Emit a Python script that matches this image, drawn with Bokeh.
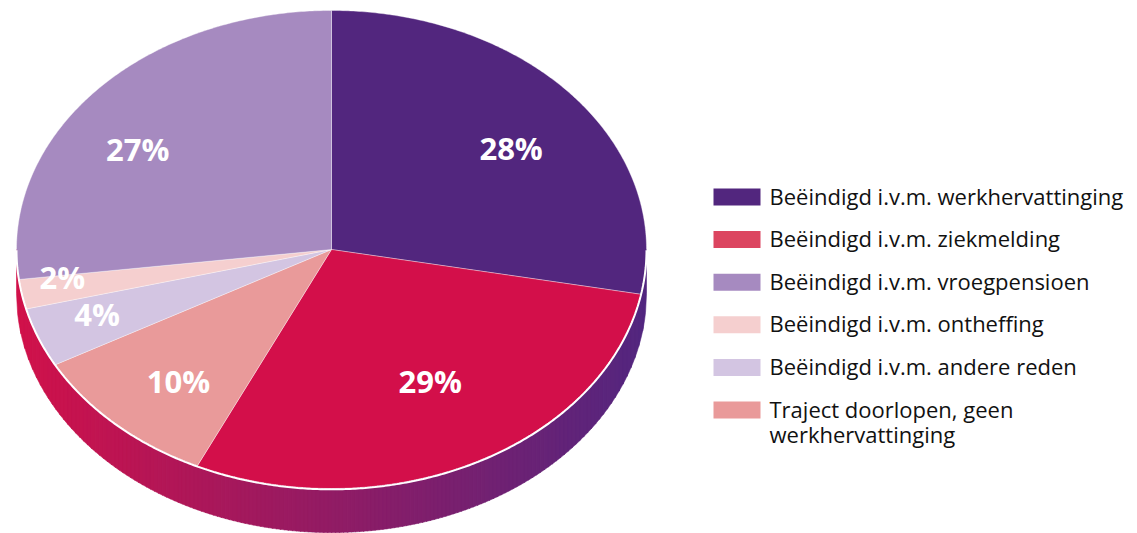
import numpy as np
from bokeh.plotting import figure
from bokeh.models import Range1d
from bokeh.core.properties import value
from bokeh.embed import file_html
from bokeh.resources import INLINE

# ---------------- data ----------------
categories = [
    "Beëindigd i.v.m. werkhervattinging",
    "Beëindigd i.v.m. ziekmelding",
    "Beëindigd i.v.m. vroegpensioen",
    "Beëindigd i.v.m. ontheffing",
    "Beëindigd i.v.m. andere reden",
    "Traject doorlopen, geen\nwerkhervattinging",
]
values = [28, 29, 27, 2, 4, 10]
pie_order = [0, 1, 5, 4, 3, 2]          # clockwise from 12 o'clock
pie_colors = ["#52267e", "#d30f4a", "#a68ac0", "#f5cfcf", "#d3c5e2", "#e99a9a"]
legend_colors = ["#52267e", "#dc4560", "#a68ac0", "#f5cfcf", "#d3c5e2", "#e99a9a"]
side_left_color = (209, 17, 74)
side_right_color = (82, 38, 127)
# label placement factors (fraction of radius, x / y), per category
label_fx = [0.74, 0.69, 0.82, 0.87, 0.80, 0.71]
label_fy = [0.66, 0.62, 0.63, 0.63, 0.75, 0.76]

# ---------------- geometry (screen px) ----------------
W, H = 1137, 533
CX, CY, A, B, DEPTH = 331, 249, 315, 239, 44

p = figure(width=W, height=H, output_backend="svg", toolbar_location=None,
           x_range=Range1d(0, W), y_range=Range1d(H, 0),
           min_border=0, outline_line_color=None)
p.axis.visible = False
p.grid.visible = False
p.background_fill_color = "white"
p.border_fill_color = "white"


def ex(t):
    return CX + A * np.sin(t)


def ey(t):
    return CY - B * np.cos(t)


# ---- side (extrusion) with horizontal gradient ----
N = 160
edges = np.linspace(CX - A, CX + A, N + 1)
sx, sy, sc = [], [], []
for i in range(N):
    x0, x1 = edges[i], min(edges[i + 1] + 0.6, CX + A)
    xs = np.linspace(x0, x1, 5)
    u = np.clip((xs - CX) / A, -1, 1)
    top = CY + B * np.sqrt(1 - u ** 2)
    bot = top + DEPTH
    sx.append(list(xs) + list(xs[::-1]))
    sy.append(list(top) + list(bot[::-1]))
    f = (0.5 * (edges[i] + edges[i + 1]) - (CX - A)) / (2 * A)
    c = [int(round(side_left_color[k] + (side_right_color[k] - side_left_color[k]) * f)) for k in range(3)]
    sc.append("#%02x%02x%02x" % tuple(c))
p.patches(sx, sy, fill_color=sc, line_color=sc, line_width=0.6)

# ---- top face slices ----
total = float(sum(values))
start = 0.0
px, py, pc = [], [], []
mids = {}
for idx in pie_order:
    frac = values[idx] / total
    t0, t1 = 2 * np.pi * start, 2 * np.pi * (start + frac)
    ts = np.linspace(t0, t1, max(4, int(frac * 720)))
    px.append([CX] + list(ex(ts)))
    py.append([CY] + list(ey(ts)))
    pc.append(pie_colors[idx])
    mids[idx] = 0.5 * (t0 + t1)
    start += frac
p.patches(px, py, fill_color=pc, line_color="white", line_alpha=0.45, line_width=0.8)

# white rim along the front edge
tf = np.linspace(np.pi / 2, 3 * np.pi / 2, 400)
p.line(ex(tf), ey(tf) + 0.8, line_color="white", line_width=2)

# ---- percentage labels ----
lx = [CX + label_fx[i] * A * np.sin(mids[i]) for i in range(len(values))]
ly = [CY - label_fy[i] * B * np.cos(mids[i]) - 1 for i in range(len(values))]
p.text(lx, ly, text=["%d%%" % v for v in values], text_color="white",
       text_font=value("Open Sans"), text_font_style="bold", text_font_size="31px",
       text_align="center", text_baseline="middle")

# ---- legend ----
LX0, LSW, LSH, LY0, LDY, TXT_DX, LINE_H = 713, 47, 17, 196.5, 42.6, 56, 25
qx0, qx1, qy0, qy1 = [], [], [], []
tx, ty, tt = [], [], []
for i, name in enumerate(categories):
    yc = LY0 + i * LDY
    qx0.append(LX0); qx1.append(LX0 + LSW)
    qy0.append(yc - LSH / 2); qy1.append(yc + LSH / 2)
    for j, line in enumerate(name.split("\n")):
        tx.append(LX0 + TXT_DX); ty.append(yc - 1.5 + j * LINE_H); tt.append(line)
p.quad(left=qx0, right=qx1, top=qy0, bottom=qy1, fill_color=legend_colors, line_color=None)
p.text(tx, ty, text=tt, text_color="#111111", text_font=value("Open Sans"),
       text_font_size="22px", text_align="left", text_baseline="middle")

open("out.html", "w").write(file_html(p, INLINE))
